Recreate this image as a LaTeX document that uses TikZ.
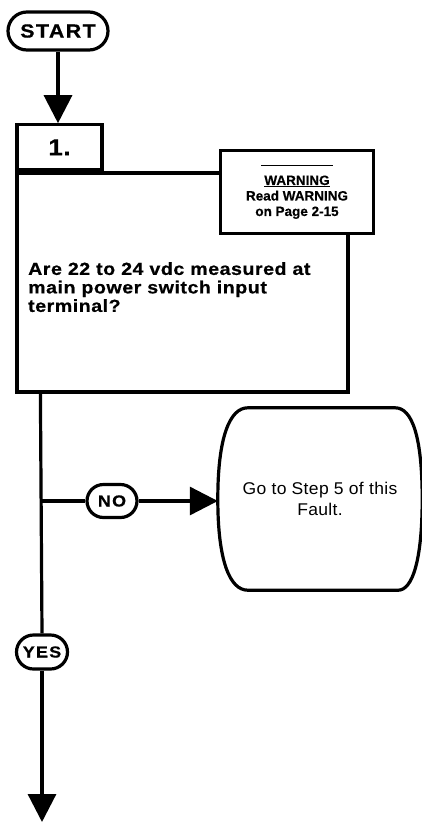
\documentclass[tikz,border=0pt]{standalone}
\usepackage{fontspec}
\setmainfont{Liberation Sans}
\newfontfamily\chartfont[LetterSpace=3, FakeStretch=1.12, FakeBold=0.6]{Liberation Sans}
\newfontfamily\pillfont[LetterSpace=8, FakeStretch=1.12, FakeBold=0.6]{Liberation Sans}
\newfontfamily\warnfont[FakeBold=0.4]{Liberation Sans}
\newfontfamily\faultfont[LetterSpace=2, FakeStretch=1.03]{Liberation Sans}
\usetikzlibrary{arrows.meta, positioning, shapes.misc, calc}

\begin{document}
\begin{tikzpicture}[
		x=1pt, y=-1pt,
		heavy/.style={line width=3.2pt},
		pill/.style={heavy, draw, fill=white, rounded rectangle, inner sep=0pt, font=\pillfont\bfseries\fontsize{16}{16}\selectfont},
		flowbox/.style={heavy, draw, fill=white, rectangle, inner sep=0pt},
		flowline/.style={heavy, -{Triangle[length=28pt, width=28pt]}}
	]
	\useasboundingbox (0,0) rectangle (422,823);
	% start and step 1
	\node[pill, minimum width=100pt, minimum height=38pt, font=\pillfont\bfseries\fontsize{19}{19}\selectfont] (start) at (58,31) {START};
	\node[flowbox, minimum width=331pt, minimum height=219pt] (question) at (182.5,282.5) {};
	\node[flowbox, anchor=south west, minimum width=85pt, minimum height=45pt, text depth=0pt, font=\chartfont\bfseries\fontsize{23}{23}\selectfont] (stepnum) at (question.north west) {1.};
	\node[flowbox, minimum width=153pt, minimum height=83pt, align=center, font=\warnfont\bfseries\fontsize{13.5}{15.5}\selectfont] (warning) at (297,192) {%
		\rule[3pt]{72pt}{1.3pt}\\ \underline{WARNING}\\ Read WARNING\\ on Page 2-15};
	\node[anchor=north west, inner sep=0pt, align=left, font=\chartfont\bfseries\fontsize{17.5}{18.5}\selectfont] (qtext) at (28,262) {%
		Are 22 to 24 vdc measured at\\ main power switch input\\ terminal?};
	% answers
	\node[minimum width=204pt, minimum height=182pt, inner sep=0pt, align=center, font=\faultfont\fontsize{17}{21}\selectfont] (fault) at (320,499) {Go to Step 5 of this\\ Fault.};
	\draw[heavy] ($(fault.north west)+(30,0)$) -- ($(fault.north east)+(-27,0)$)
		.. controls ($(fault.north east)+(-10,0)$) and ($(fault.east)+(0,-62)$) .. (fault.east)
		.. controls ($(fault.east)+(0,62)$) and ($(fault.south east)+(-10,0)$) .. ($(fault.south east)+(-24,0)$)
		-- ($(fault.south west)+(30,0)$)
		.. controls ($(fault.south west)+(12,0)$) and ($(fault.west)+(0,62)$) .. (fault.west)
		.. controls ($(fault.west)+(0,-62)$) and ($(fault.north west)+(12,0)$) .. cycle;
	\node[pill, minimum width=50pt, minimum height=33pt] (nopill) at (112,501) {NO};
	\node[pill, minimum width=51pt, minimum height=34pt] (yespill) at (42,652) {YES};
	\coordinate (split) at ($(question.south west)+(25,0)$);
	\coordinate (exit) at (42,822);
	\draw[flowline] (start.south) -- (start.south |- stepnum.north);
	\draw[heavy] (split) -- (yespill.north);
	\draw[heavy] (split |- nopill) -- (nopill.west);
	\draw[flowline] (nopill.east) -- (nopill -| fault.west);
	\draw[flowline] (yespill.south) -- (exit);
\end{tikzpicture}
\end{document}
